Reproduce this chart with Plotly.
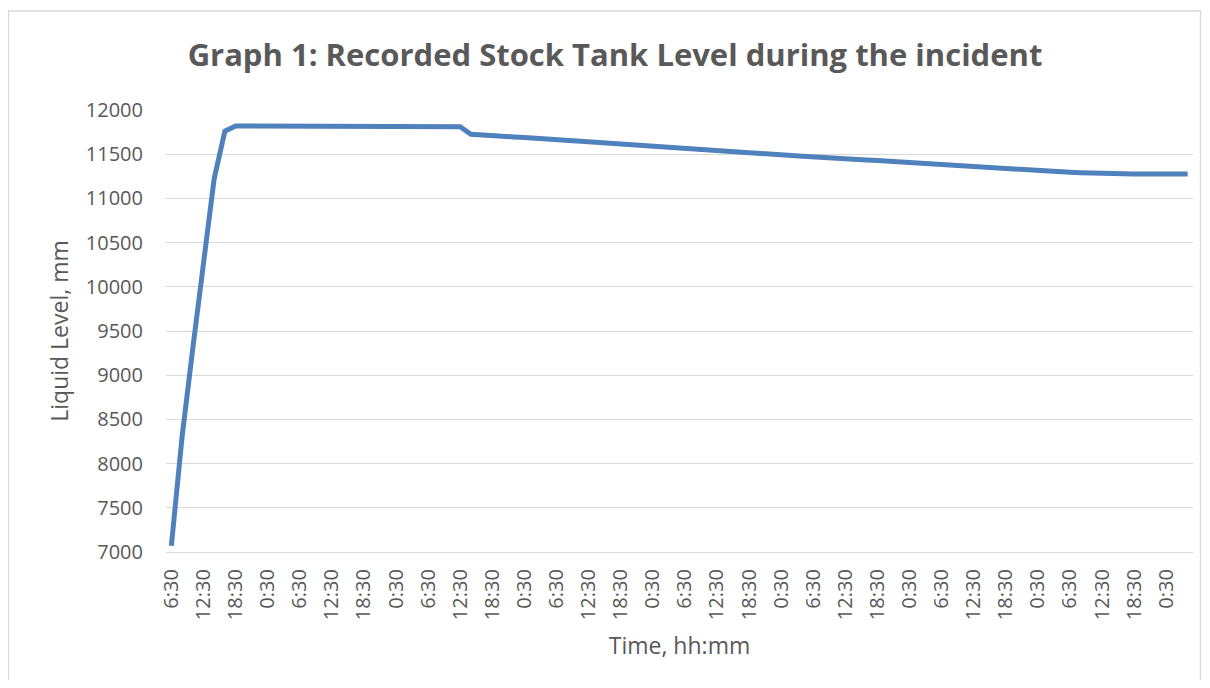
import plotly.graph_objects as go
import pandas as pd

# ---- data ----
start_time = "2000-01-01 06:30"   # only the clock time is shown
step_hours = 2
levels_mm = [
    7070, 8300, 9300, 10300, 11220, 11760, 11820, 11820, 11820, 11820,
    11820, 11815, 11815, 11810, 11810, 11810, 11810, 11810, 11810, 11810,
    11810, 11810, 11810, 11810, 11810, 11810, 11810, 11810, 11725, 11715,
    11705, 11700, 11695, 11690, 11680, 11670, 11665, 11650, 11645, 11640,
    11632, 11624, 11615, 11605, 11598, 11590, 11580, 11573, 11565, 11556,
    11547, 11540, 11535, 11525, 11515, 11508, 11500, 11492, 11485, 11477,
    11468, 11460, 11452, 11445, 11440, 11435, 11428, 11420, 11412, 11405,
    11397, 11390, 11382, 11372, 11362, 11355, 11350, 11345, 11340, 11332,
    11325, 11318, 11310, 11302, 11295, 11290, 11285, 11280, 11278, 11278,
    11276, 11276, 11275, 11275, 11275, 11275,
]
times = pd.date_range(start=start_time, periods=len(levels_mm), freq=f"{step_hours}h")

title_text = "Graph 1: Recorded Stock Tank Level during the incident"
x_title = "Time, hh:mm"
y_title = "Liquid Level, mm"

# ---- style ----
TXT = "#595959"
GRID = "#d9d9d9"
LINE = "#4f81bd"
FONT = "Open Sans"

OFF = 8                      # page body margin
W, H = 1210 - 2 * OFF, 688 - 2 * OFF
# plot area in page pixels
PL, PR, PT, PB = 166, 1193, 110, 552
L, R, T, B = PL - OFF, W - (PR - OFF), PT - OFF, H - (PB - OFF)
pw, ph = W - L - R, H - T - B

def px_x(p):
    return (p - OFF - L) / pw

def px_y(p):
    return (H - B - (p - OFF)) / ph

fig = go.Figure()
fig.add_trace(go.Scatter(
    x=times, y=levels_mm, mode="lines",
    line=dict(color=LINE, width=5),
    hoverinfo="x+y", showlegend=False,
))

half = pd.Timedelta(hours=step_hours / 2)
fig.update_layout(
    width=W, height=H,
    margin=dict(l=L, r=R, t=T, b=B, autoexpand=False),
    paper_bgcolor="white", plot_bgcolor="white",
    font=dict(family=FONT, color=TXT, size=20),
    title=dict(text=title_text, x=(615 - OFF) / W, xanchor="center",
               y=1 - (55 - OFF) / H, yanchor="middle",
               font=dict(family=FONT, size=31, color=TXT, weight="bold")),
    xaxis=dict(
        type="date", automargin=False,
        range=[times[0] - half, times[-1] + half],
        tick0=start_time, dtick=6 * 3600 * 1000,
        tickformat="%-H:%M", tickangle=-90,
        showgrid=False, zeroline=False,
        showline=True, linecolor=GRID, linewidth=1.3,
        ticks="", ticklabelstandoff=8,
        tickfont=dict(size=20, color=TXT),
        title=dict(text=x_title, standoff=18, font=dict(size=23, color=TXT)),
    ),
    yaxis=dict(
        automargin=False,
        range=[7000, 12000], dtick=500, tick0=7000, tickformat="d",
        showgrid=True, gridcolor=GRID, gridwidth=1.3,
        zeroline=False, showline=False, ticks="",
        ticklabelstandoff=22,
        tickfont=dict(size=20, color=TXT),
        title=dict(text=y_title, standoff=10, font=dict(size=23, color=TXT)),
    ),
    shapes=[dict(type="rect", xref="paper", yref="paper",
                 x0=px_x(8.5), x1=px_x(1200.5), y0=px_y(700), y1=px_y(11),
                 line=dict(color=GRID, width=1.3), fillcolor="rgba(0,0,0,0)", layer="below")],
)

fig.write_html("out.html")
